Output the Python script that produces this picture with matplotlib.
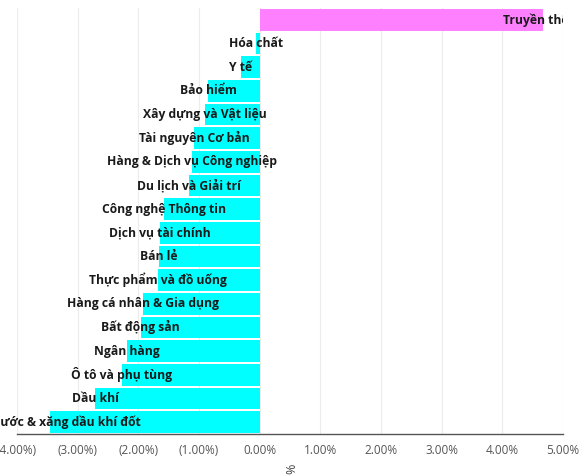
import numpy as np
import matplotlib
matplotlib.use("Agg")
import matplotlib.pyplot as plt
from matplotlib.ticker import FuncFormatter

# sector returns (%), top to bottom as drawn
sectors = [
    "Truyền thông",
    "Hóa chất",
    "Y tế",
    "Bảo hiểm",
    "Xây dựng và Vật liệu",
    "Tài nguyên Cơ bản",
    "Hàng & Dịch vụ Công nghiệp",
    "Du lịch và Giải trí",
    "Công nghệ Thông tin",
    "Dịch vụ tài chính",
    "Bán lẻ",
    "Thực phẩm và đồ uống",
    "Hàng cá nhân & Gia dụng",
    "Bất động sản",
    "Ngân hàng",
    "Ô tô và phụ tùng",
    "Dầu khí",
    "Điện, nước & xăng dầu khí đốt",
]
returns = [4.67, -0.06, -0.31, -0.85, -0.90, -1.08, -1.12, -1.17, -1.58,
           -1.64, -1.66, -1.68, -1.92, -1.96, -2.19, -2.27, -2.71, -3.46]
xticks = [-4, -3, -2, -1, 0, 1, 2, 3, 4, 5]

plt.rcParams["font.family"] = ["Open Sans", "DejaVu Sans"]

fig = plt.figure(figsize=(5.79, 4.76), dpi=100)
ax = fig.add_axes([17 / 579, 42 / 476, 546 / 579, 426 / 476])

y = np.arange(len(sectors))
colors = ["#FF80FF" if v > 0 else "#00FFFF" for v in returns]
ax.barh(y, returns, height=0.92, color=colors, zorder=2)

for yi, v, name in zip(y, returns, sectors):
    # the positive label gets cut at the plot's right edge, like the original
    ax.text(v, yi, name, ha="center", va="center", fontsize=8.7,
            fontweight="bold", color="#1a1a1a", zorder=3, clip_on=(v > 0))

ax.set_xlim(-4, 5)
ax.set_ylim(len(sectors) - 0.5, -0.5)
ax.set_xticks(xticks)


def fmt(v, pos):
    if v < 0:
        return "({:.2f}%)".format(-v)
    return "{:.2f}%".format(v)


ax.xaxis.set_major_formatter(FuncFormatter(fmt))
ax.tick_params(axis="x", length=0, labelsize=8.5, labelcolor="#555555", pad=7)
ax.set_yticks([])
ax.grid(axis="x", color="#ececec", linewidth=0.8, zorder=0)
for s in ["top", "right", "left"]:
    ax.spines[s].set_visible(False)
ax.spines["bottom"].set_color("#555555")
ax.spines["bottom"].set_linewidth(1.0)

ax.set_xlabel("%", rotation=90, fontsize=9, color="#444444", labelpad=2)
ax.xaxis.set_label_coords(0.503, -0.07)

fig.savefig("out.png", dpi=100)
